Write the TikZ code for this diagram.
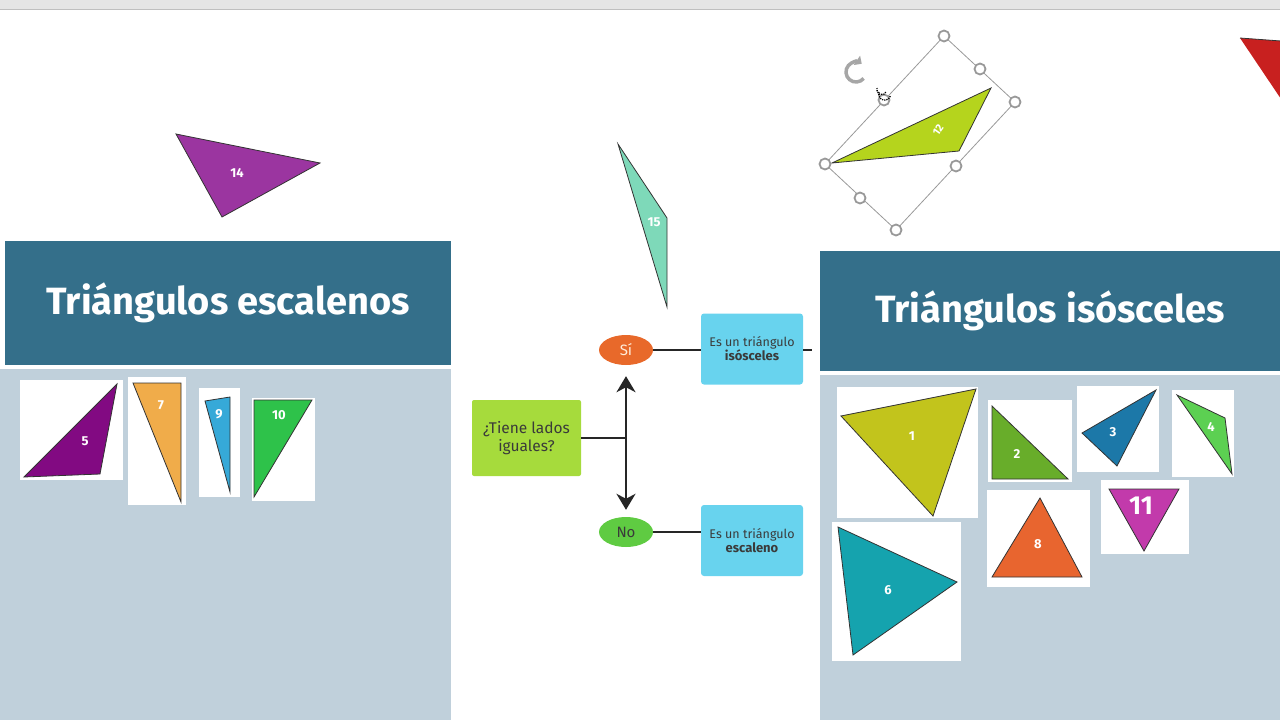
\documentclass[tikz,border=0pt]{standalone}
\usepackage{fontspec}
\setmainfont{Fira Sans}
\usetikzlibrary{arrows.meta,shapes.geometric}

\definecolor{headblue}{HTML}{346F8A}
\definecolor{panelbody}{HTML}{C0D0DB}
\definecolor{qgreen}{HTML}{A6DB3C}
\definecolor{siorange}{HTML}{E8692A}
\definecolor{nogreen}{HTML}{5FCB42}
\definecolor{boxblue}{HTML}{68D3EE}
\definecolor{textdark}{HTML}{3A3A3A}
\definecolor{tone}{HTML}{C2C41C}
\definecolor{ttwo}{HTML}{68AD2A}
\definecolor{tthree}{HTML}{1C78A8}
\definecolor{tfour}{HTML}{5CD052}
\definecolor{tfive}{HTML}{820A82}
\definecolor{tsix}{HTML}{15A3AE}
\definecolor{tseven}{HTML}{F0AC4A}
\definecolor{teight}{HTML}{E8652F}
\definecolor{tnine}{HTML}{36A9D8}
\definecolor{tten}{HTML}{2EC24A}
\definecolor{televen}{HTML}{C23AAB}
\definecolor{ttwelve}{HTML}{B5D41D}
\definecolor{tthirteen}{HTML}{C8201F}
\definecolor{tfourteen}{HTML}{9B35A0}
\definecolor{tfifteen}{HTML}{7ED9B9}

\tikzstyle{head} = [fill=headblue, text=white, font=\bfseries\fontsize{38}{46}\selectfont, inner sep=0pt]
\tikzstyle{card} = [fill=white]
\tikzstyle{tri} = [draw=black!80, line width=0.8pt]
\tikzstyle{num} = [text=white, font=\bfseries\fontsize{13}{15}\selectfont, inner sep=0pt]
\tikzstyle{answer} = [ellipse, minimum width=54pt, minimum height=30pt, inner sep=0pt, font=\fontsize{15}{17}\selectfont]
\tikzstyle{result} = [rounded corners=3pt, fill=boxblue, minimum width=102pt, minimum height=71pt, align=center, text=textdark, inner sep=0pt, font=\fontsize{12.5}{14}\selectfont]
\tikzstyle{link} = [line width=2.5pt, draw=black!85]
\tikzstyle{handle} = [circle, draw=black!40, line width=1.8pt, fill=white, minimum size=11pt, inner sep=0pt]

\begin{document}
\begin{tikzpicture}[x=1pt, y=-1pt]
\useasboundingbox (0,0) rectangle (1280,720);
%top bar
\fill[black!10] (0,0) rectangle (1280,9);
\draw[black!25, line width=1.5pt] (0,9.5) -- (1280,9.5);

%begin panel-escalenos
\fill[panelbody] (0,369) rectangle (451,720);
\node[head, minimum width=446pt, minimum height=124pt] (hesc) at (228,303) {Triángulos escalenos};
\fill[card] (20,380) rectangle (123,480);
\filldraw[tri, fill=tfive] (117,384) -- (24,477) -- (100,474) -- cycle;
\node[num] (n5) at (85,441) {5};
\fill[card] (128,377) rectangle (186,505);
\filldraw[tri, fill=tseven] (133,383) -- (181,383) -- (181,502) -- cycle;
\node[num] (n7) at (161,405) {7};
\fill[card] (199,388) rectangle (240,497);
\filldraw[tri, fill=tnine] (205,401) -- (230,397) -- (230,492) -- cycle;
\node[num] (n9) at (219,414) {9};
\fill[card] (252,398) rectangle (315,501);
\filldraw[tri, fill=tten] (254,400) -- (312,400) -- (254,497) -- cycle;
\node[num] (n10) at (279,415) {10};
%end panel-escalenos

%begin panel-isosceles
\fill[panelbody] (820,375) rectangle (1280,720);
\node[head, minimum width=460pt, minimum height=120pt] (hiso) at (1050,311) {Triángulos isósceles};
\fill[card] (837,387) rectangle (978,518);
\filldraw[tri, fill=tone] (841,416) -- (976,389) -- (933,516) -- cycle;
\node[num] (n1) at (912,436) {1};
\fill[card] (988,400) rectangle (1072,482);
\filldraw[tri, fill=ttwo] (992,406) -- (992,479) -- (1068,479) -- cycle;
\node[num] (n2) at (1017,454) {2};
\fill[card] (1077,386) rectangle (1159,472);
\filldraw[tri, fill=tthree] (1082,433) -- (1156,390) -- (1117,466) -- cycle;
\node[num] (n3) at (1113,432) {3};
\fill[card] (1172,390) rectangle (1234,477);
\filldraw[tri, fill=tfour] (1177,395) -- (1225,418) -- (1232,474) -- cycle;
\node[num] (n4) at (1211,427) {4};
\fill[card] (832,522) rectangle (961,661);
\filldraw[tri, fill=tsix] (838,527) -- (957,582) -- (853,655) -- cycle;
\node[num] (n6) at (888,590) {6};
\fill[card] (987,490) rectangle (1090,587);
\filldraw[tri, fill=teight] (1040,498) -- (992,577) -- (1082,577) -- cycle;
\node[num] (n8) at (1038,544) {8};
\fill[card] (1101,480) rectangle (1189,554);
\filldraw[tri, fill=televen] (1109,489) -- (1179,489) -- (1144,551) -- cycle;
\node[num, font=\bfseries\fontsize{26}{28}\selectfont] (n11) at (1141,506) {11};
%end panel-isosceles

%begin loose triangles
\filldraw[tri, fill=tfourteen] (176,134) -- (320,163) -- (222,217) -- cycle;
\node[num] (n14) at (237,173) {14};
\filldraw[tri, fill=tfifteen] (618,144) -- (667,218) -- (667,307) -- cycle;
\node[num] (n15) at (654,222) {15};
\filldraw[tri, fill=tthirteen] (1240,38) -- (1281,41) -- (1281,99);
%end loose triangles

%begin selected-12
\draw[black!40, line width=0.8pt] (944,36) -- (1015,102) -- (896,230) -- (825,164) -- cycle;
\filldraw[tri, fill=ttwelve] (832,163) -- (991,88) -- (959,151) -- cycle;
\node[num, font=\bfseries\fontsize{11}{13}\selectfont, rotate=55] (n12) at (938,130) {12};
\foreach \hx/\hy [count=\i] in {944/36, 980/69, 1015/102, 956/166, 896/230, 860/198, 825/164, 884/100}
    \node[handle] (h\i) at (\hx,\hy) {};
\draw[black!35, line width=3.5pt, -{Triangle[length=6pt,width=11pt]}] (856,72) ++(40:10) arc[start angle=40, end angle=305, radius=10];
\draw[black, line width=1.3pt, dash pattern=on 1.2pt off 1pt] (877,88) arc[start angle=200, end angle=20, radius=5];
\draw[black, line width=1.3pt, dash pattern=on 1.2pt off 1pt] (879,92) arc[start angle=200, end angle=20, radius=6];
%end selected-12

%begin flowchart
\node[rounded corners=2pt, fill=qgreen, minimum width=109pt, minimum height=76pt, align=center, text=textdark, inner sep=0pt, font=\fontsize{15.5}{18}\selectfont] (q) at (526.5,438) {¿Tiene lados\\iguales?};
\node[answer, fill=siorange, text=white!85!orange] (si) at (626,350) {Sí};
\node[answer, fill=nogreen, text=textdark] (no) at (626,532) {No};
\node[result] (iso) at (752,349) {Es un triángulo\\\textbf{\fontsize{13}{15}\selectfont isósceles}};
\node[result] (esc) at (752,540.5) {Es un triángulo\\\textbf{\fontsize{13}{15}\selectfont escaleno}};
\coordinate (fork) at (626,438);
\coordinate (isotail) at (812,350);
\draw[link] (q.east |- fork) -- (fork);
\draw[link, -{Stealth[length=16pt,width=19pt,inset=5pt]}, shorten >=11pt] (fork) -- (si.south);
\draw[link, -{Stealth[length=16pt,width=19pt,inset=5pt]}, shorten >=7pt] (fork) -- (no.north);
\draw[link] (si.east) -- (si.east -| iso.west);
\draw[link] (iso.east |- isotail) -- (isotail);
\draw[link] (no.east) -- (no.east -| esc.west);
%end flowchart
\end{tikzpicture}
\end{document}
